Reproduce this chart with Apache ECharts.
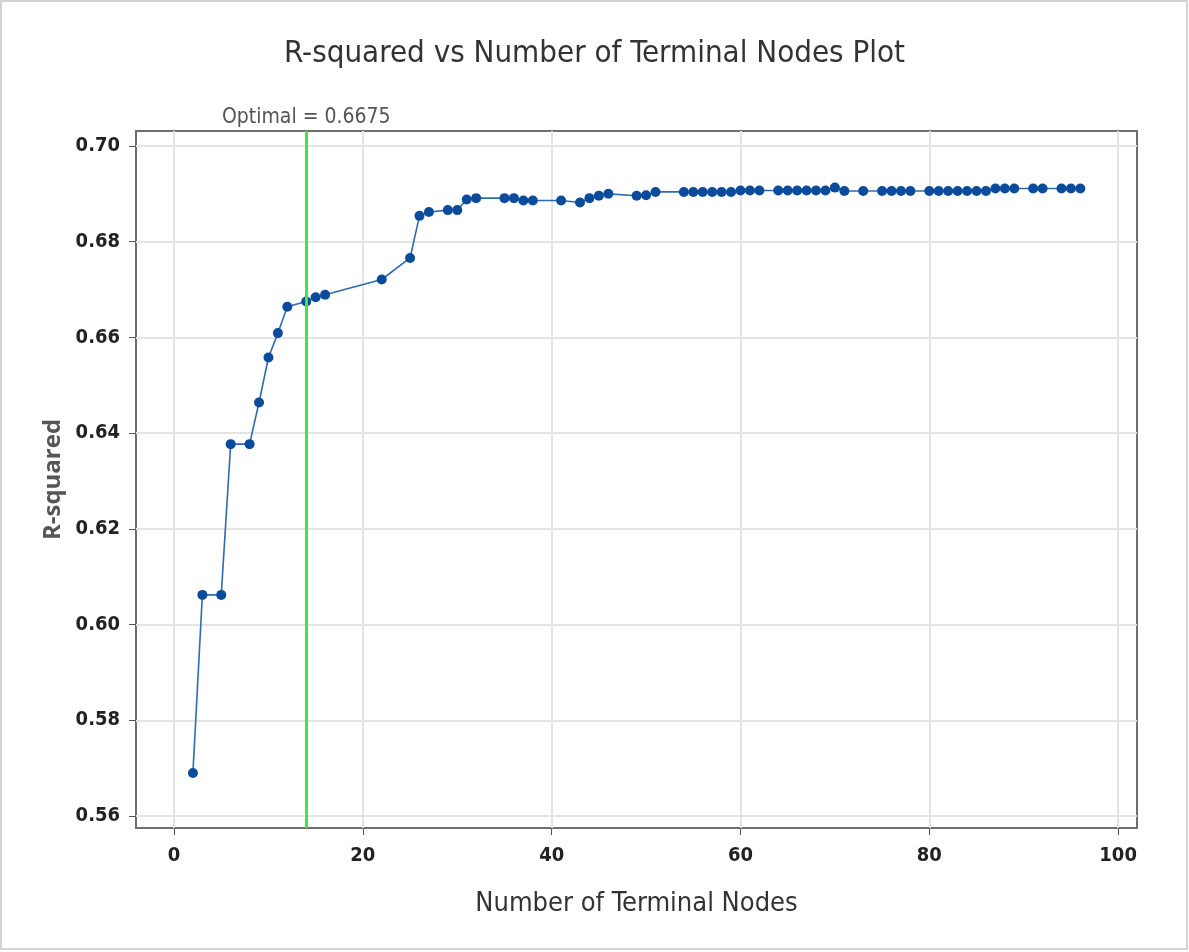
<!DOCTYPE html>
<html>
<head>
<meta charset="utf-8">
<title>R-squared vs Number of Terminal Nodes Plot</title>
<script src="https://cdn.jsdelivr.net/npm/echarts@6/dist/echarts.min.js"></script>
<style>
  html, body { margin: 0; padding: 0; background: #ffffff; }
  #chart { width: 1189px; height: 952px; }
</style>
</head>
<body>
<div id="chart"></div>
<script>
// Number of terminal nodes in each tree of the sequence
const nodes = [2, 3, 5, 6, 8, 9, 10, 11, 12, 14, 15, 16, 22, 25, 26, 27, 29, 30, 31, 32,
  35, 36, 37, 38, 41, 43, 44, 45, 46, 49, 50, 51, 54, 55, 56, 57, 58, 59, 60, 61, 62,
  64, 65, 66, 67, 68, 69, 70, 71, 73, 75, 76, 77, 78, 80, 81, 82, 83, 84, 85, 86,
  87, 88, 89, 91, 92, 94, 95, 96];

// R-squared of each tree
const rsq = [0.5690, 0.6062, 0.6062, 0.6377, 0.6377, 0.6464, 0.6558, 0.6609, 0.6664, 0.6675,
  0.6684, 0.6689, 0.6721, 0.6766, 0.6854, 0.6862, 0.6866, 0.6866, 0.6888, 0.6891,
  0.6891, 0.6891, 0.6886, 0.6886, 0.6886, 0.6882, 0.6891, 0.6896, 0.6900, 0.6896, 0.6897, 0.6904,
  0.6904, 0.6904, 0.6904, 0.6904, 0.6904, 0.6904, 0.6907, 0.6907, 0.6907,
  0.6907, 0.6907, 0.6907, 0.6907, 0.6907, 0.6907, 0.6913, 0.6906, 0.6906, 0.6906, 0.6906, 0.6906, 0.6906,
  0.6906, 0.6906, 0.6906, 0.6906, 0.6906, 0.6906, 0.6906,
  0.6911, 0.6911, 0.6911, 0.6911, 0.6911, 0.6911, 0.6911, 0.6911];

// Selected tree
const optimalNodes = 14;
const optimalRsq = 0.6675;

// Axis tick values
const xTicks = [0, 20, 40, 60, 80, 100];
const yTicks = [0.56, 0.58, 0.60, 0.62, 0.64, 0.66, 0.68, 0.70];

const points = nodes.map((n, i) => [n, rsq[i]]);

const chart = echarts.init(document.getElementById('chart'), null, { renderer: 'canvas' });

const narrow = '"Liberation Sans Narrow", "DejaVu Sans Condensed", "Liberation Sans", sans-serif';

chart.setOption({
  backgroundColor: '#ffffff',
  animation: false,
  graphic: [{
    type: 'rect',
    shape: { x: 1, y: 1, width: 1186, height: 948 },
    style: { fill: 'none', stroke: '#d4d4d4', lineWidth: 2 },
    silent: true
  }],
  title: {
    text: 'R-squared vs Number of Terminal Nodes Plot',
    left: 'center',
    top: 33,
    textStyle: { fontFamily: narrow, fontSize: 31, fontWeight: 'normal', color: '#333333' }
  },
  grid: {
    left: 136, right: 52, top: 131, bottom: 124,
    show: true,
    borderColor: '#6e6e6e',
    borderWidth: 2,
    backgroundColor: '#ffffff'
  },
  xAxis: {
    type: 'value',
    min: -4.03,
    max: 102,
    minInterval: 20,
    maxInterval: 20,
    name: 'Number of Terminal Nodes',
    nameLocation: 'middle',
    nameGap: 62,
    nameTextStyle: { fontFamily: narrow, fontSize: 27, color: '#333333' },
    axisLine: { show: false, onZero: false },
    axisTick: { show: true, length: 7, customValues: xTicks, lineStyle: { color: '#555555', width: 1 } },
    axisLabel: {
      customValues: xTicks,
      margin: 18,
      fontFamily: narrow,
      fontSize: 20,
      fontWeight: 'bold',
      color: '#222222'
    },
    splitLine: { show: true, lineStyle: { color: '#e4e4e4', width: 2 } }
  },
  yAxis: {
    type: 'value',
    min: 0.55749,
    max: 0.70313,
    minInterval: 0.02,
    maxInterval: 0.02,
    name: 'R-squared',
    nameLocation: 'middle',
    nameGap: 66,
    nameRotate: 90,
    nameTextStyle: { fontFamily: '"Open Sans", "Noto Sans", sans-serif', fontSize: 24, fontWeight: 'bold', color: '#555555' },
    axisLine: { show: false, onZero: false },
    axisTick: { show: true, length: 7, customValues: yTicks, lineStyle: { color: '#555555', width: 1 } },
    axisLabel: {
      customValues: yTicks,
      margin: 16,
      formatter: v => v.toFixed(2),
      fontFamily: narrow,
      fontSize: 20,
      fontWeight: 'bold',
      color: '#222222'
    },
    splitLine: { show: true, lineStyle: { color: '#e4e4e4', width: 2 } }
  },
  series: [{
    type: 'line',
    data: points,
    symbol: 'circle',
    symbolSize: 10,
    lineStyle: { color: '#2e6bb0', width: 1.6 },
    itemStyle: { color: '#0b4b9c' },
    z: 3,
    markLine: {
      silent: true,
      symbol: 'none',
      z: 4,
      lineStyle: { color: '#3ee83e', width: 3, type: 'solid' },
      label: {
        show: true,
        position: 'end',
        distance: 3,
        formatter: 'Optimal = ' + optimalRsq.toFixed(4),
        fontFamily: narrow,
        fontSize: 21,
        color: '#555555'
      },
      data: [{ xAxis: optimalNodes }]
    }
  }]
});
</script>
</body>
</html>
